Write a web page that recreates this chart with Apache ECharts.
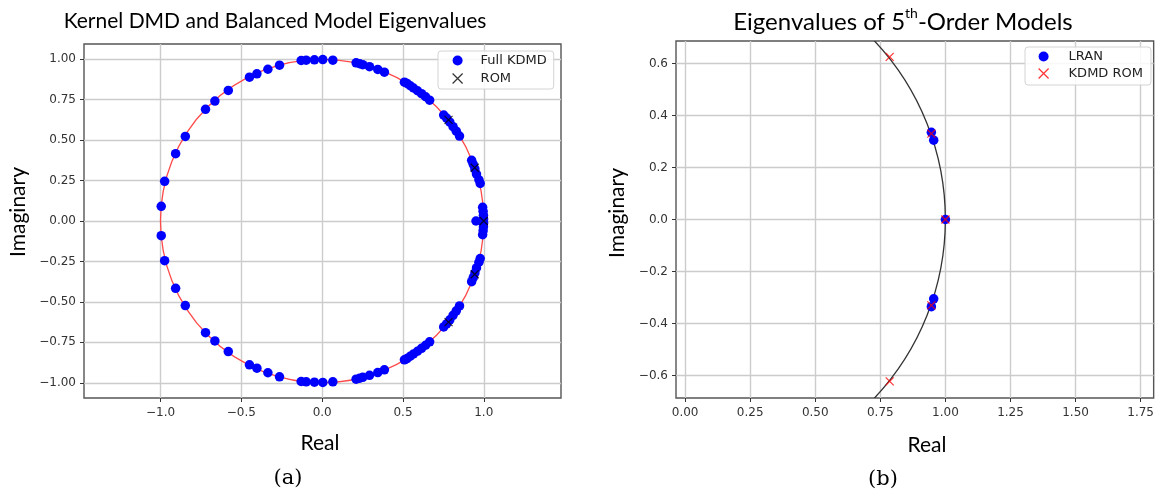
<!DOCTYPE html>
<html>
<head>
<meta charset="utf-8">
<script src="https://cdn.jsdelivr.net/npm/echarts@6/dist/echarts.min.js"></script>
<style>
  html, body { margin: 0; padding: 0; background: #fff; }
  #chart { width: 1157px; height: 495px; }
</style>
</head>
<body>
<div id="chart"></div>
<script>
// (a) full kernel DMD eigenvalues [real, imag]
const fullKdmd = [
  [-0.996, 0.091], [-0.975, 0.245], [-0.907, 0.416], [-0.847, 0.523], [-0.722, 0.690],
  [-0.664, 0.741], [-0.581, 0.807], [-0.450, 0.889], [-0.404, 0.910], [-0.336, 0.938],
  [-0.264, 0.963], [-0.130, 0.992], [-0.099, 0.994], [-0.048, 0.996], [0.004, 0.998],
  [0.066, 0.994], [0.210, 0.978], [0.232, 0.972], [0.251, 0.966], [0.293, 0.954],
  [0.344, 0.937], [0.385, 0.920], [0.509, 0.858], [0.525, 0.850], [0.545, 0.836],
  [0.565, 0.822], [0.590, 0.805], [0.615, 0.787], [0.640, 0.768], [0.665, 0.747],
  [0.752, 0.655], [0.770, 0.636], [0.790, 0.611], [0.810, 0.583], [0.830, 0.555],
  [0.850, 0.525], [0.925, 0.375], [0.935, 0.350], [0.945, 0.322], [0.955, 0.290],
  [0.970, 0.255], [0.978, 0.232], [0.993, 0.085], [0.996, 0.060], [0.998, 0.035],
  [0.999, 0.012], [0.952, 0.000],
  [-0.996, -0.091], [-0.975, -0.245], [-0.907, -0.416], [-0.847, -0.523], [-0.722, -0.690],
  [-0.664, -0.741], [-0.581, -0.807], [-0.450, -0.889], [-0.404, -0.910], [-0.336, -0.938],
  [-0.264, -0.963], [-0.130, -0.992], [-0.099, -0.994], [-0.048, -0.996], [0.004, -0.998],
  [0.066, -0.994], [0.210, -0.978], [0.232, -0.972], [0.251, -0.966], [0.293, -0.954],
  [0.344, -0.937], [0.385, -0.920], [0.509, -0.858], [0.525, -0.850], [0.545, -0.836],
  [0.565, -0.822], [0.590, -0.805], [0.615, -0.787], [0.640, -0.768], [0.665, -0.747],
  [0.752, -0.655], [0.770, -0.636], [0.790, -0.611], [0.810, -0.583], [0.830, -0.555],
  [0.850, -0.525], [0.925, -0.375], [0.935, -0.350], [0.945, -0.322], [0.955, -0.290],
  [0.970, -0.255], [0.978, -0.232], [0.993, -0.085], [0.996, -0.060], [0.998, -0.035],
  [0.999, -0.012]
];
// reduced order model eigenvalues
const romEig = [[1.000, 0.000], [0.944, 0.329], [0.944, -0.329], [0.782, 0.625], [0.782, -0.625]];
// (b) 5th-order models
const lranEig = [[1.000, 0.000], [0.946, 0.335], [0.955, 0.305], [0.946, -0.335], [0.955, -0.305]];
const kdmdRomEig = [[1.000, 0.000], [0.946, 0.330], [0.946, -0.330], [0.786, 0.625], [0.786, -0.622]];
// unit circle: [centre re, centre im, radius]
const unitCircle = [[0, 0, 1]];

// tick values
const ticksAx = [-1.0, -0.5, 0.0, 0.5, 1.0];
const ticksAy = [-1.0, -0.75, -0.5, -0.25, 0.0, 0.25, 0.5, 0.75, 1.0];
const ticksBx = [0.0, 0.25, 0.5, 0.75, 1.0, 1.25, 1.5, 1.75];
const ticksBy = [-0.6, -0.4, -0.2, 0.0, 0.2, 0.4, 0.6];

const chart = echarts.init(document.getElementById('chart'));

const tickFont = 'DejaVu Sans';
const titleFont = 'Lato';
const fmt = (d) => (v) => (Math.abs(v) < 1e-9 ? 0 : v).toFixed(d).replace('-', '\u2212');

function valueAxis(gridIndex, min, max, ticks, digits, margin) {
  return {
    type: 'value',
    gridIndex,
    min,
    max,
    axisLine: { show: false, onZero: false },
    axisTick: { show: true, length: 4, lineStyle: { color: '#333', width: 1 }, customValues: ticks },
    axisLabel: { color: '#333', fontFamily: tickFont, fontSize: 12, margin, customValues: ticks, formatter: fmt(digits) },
    splitLine: { show: true, lineStyle: { color: '#cccccc', width: 1.4 } }
  };
}

function circleItem(color) {
  return function (params, api) {
    const c = api.coord([api.value(0), api.value(1)]);
    const s = api.size([api.value(2), api.value(2)]);
    return {
      type: 'circle',
      shape: { cx: c[0], cy: c[1], r: (s[0] + s[1]) / 2 },
      style: { fill: 'none', stroke: color, lineWidth: 1.3 }
    };
  };
}

function label(text, x, y, size, rotate, font) {
  return {
    type: 'text', x, y, rotation: rotate ? Math.PI / 2 : 0,
    style: { text, font: size + 'px ' + (font || titleFont), fill: '#000', textAlign: 'center', textVerticalAlign: 'middle' }
  };
}

const crossPath = 'path://M0,0L10,10M10,0L0,10';
const legendBox = {
  orient: 'vertical', itemWidth: 10, itemHeight: 10,
  backgroundColor: 'rgba(255,255,255,0.85)', borderColor: '#d4d4d4', borderWidth: 1, borderRadius: 3
};

const option = {
  animation: false,
  backgroundColor: '#fff',
  grid: [
    { left: 84, top: 44, width: 477, height: 354, show: true, borderColor: '#555', borderWidth: 1.4, backgroundColor: 'transparent' },
    { left: 676, top: 41, width: 478, height: 357, show: true, borderColor: '#555', borderWidth: 1.4, backgroundColor: 'transparent' }
  ],
  xAxis: [
    valueAxis(0, -1.474, 1.478, ticksAx, 1, 9),
    valueAxis(1, -0.035, 1.80, ticksBx, 2, 9)
  ],
  yAxis: [
    valueAxis(0, -1.094, 1.094, ticksAy, 2, 8),
    valueAxis(1, -0.686, 0.686, ticksBy, 1, 8)
  ],
  legend: [
    Object.assign({}, legendBox, {
      left: 438, top: 51, padding: [3, 7, 4, 14], itemGap: 5,
      textStyle: { fontFamily: tickFont, fontSize: 13, color: '#222', padding: [0, 0, 0, 13] },
      data: [
        { name: 'Full KDMD', icon: 'circle' },
        { name: 'ROM', icon: crossPath, itemStyle: { color: 'rgba(0,0,0,0)', borderColor: '#000', borderWidth: 1.2 } }
      ]
    }),
    Object.assign({}, legendBox, {
      left: 1025, top: 47, padding: [3, 8, 5, 13], itemGap: 4,
      textStyle: { fontFamily: tickFont, fontSize: 13, color: '#222', padding: [0, 0, 0, 15] },
      data: [
        { name: 'LRAN', icon: 'circle' },
        { name: 'KDMD ROM', icon: crossPath, itemStyle: { color: 'rgba(0,0,0,0)', borderColor: '#ff0000', borderWidth: 1.2 } }
      ]
    })
  ],
  graphic: [
    label('Kernel DMD and Balanced Model Eigenvalues', 275, 21, 21),
    {
      type: 'text', x: 903, y: 20,
      style: {
        text: '{a|Eigenvalues of 5}{s|th}{a|-Order Models}',
        textAlign: 'center', textVerticalAlign: 'middle',
        rich: {
          a: { fontFamily: titleFont, fontSize: 24, color: '#000', lineHeight: 28, verticalAlign: 'bottom' },
          s: { fontFamily: titleFont, fontSize: 14, color: '#000', lineHeight: 28, verticalAlign: 'top' }
        }
      }
    },
    label('Real', 320, 443, 21),
    label('Real', 927, 445, 21),
    label('Imaginary', 18, 212, 21, true),
    label('Imaginary', 617, 213, 21, true),
    label('(a)', 288, 479, 21, false, '"DejaVu Serif"'),
    label('(b)', 883, 480, 21, false, '"DejaVu Serif"')
  ],
  series: [
    {
      type: 'custom', name: 'unit circle a', xAxisIndex: 0, yAxisIndex: 0, silent: true, clip: true,
      renderItem: circleItem('#ff4a4a'), data: unitCircle, z: 2
    },
    {
      type: 'scatter', name: 'Full KDMD', xAxisIndex: 0, yAxisIndex: 0,
      symbol: 'circle', symbolSize: 9.5, itemStyle: { color: '#0000ff', opacity: 1 }, data: fullKdmd, z: 3
    },
    {
      type: 'scatter', name: 'ROM', xAxisIndex: 0, yAxisIndex: 0,
      symbol: crossPath, symbolSize: 8,
      itemStyle: { color: 'rgba(0,0,0,0)', borderColor: '#000', borderWidth: 1.2 }, data: romEig, z: 4
    },
    {
      type: 'custom', name: 'unit circle b', xAxisIndex: 1, yAxisIndex: 1, silent: true, clip: true,
      renderItem: circleItem('#333'), data: unitCircle, z: 2
    },
    {
      type: 'scatter', name: 'LRAN', xAxisIndex: 1, yAxisIndex: 1,
      symbol: 'circle', symbolSize: 9.5, itemStyle: { color: '#0000ff', opacity: 1 }, data: lranEig, z: 3
    },
    {
      type: 'scatter', name: 'KDMD ROM', xAxisIndex: 1, yAxisIndex: 1,
      symbol: crossPath, symbolSize: 8,
      itemStyle: { color: 'rgba(0,0,0,0)', borderColor: '#ff0000', borderWidth: 1.2 }, data: kdmdRomEig, z: 4
    }
  ]
};

chart.setOption(option);
</script>
</body>
</html>
